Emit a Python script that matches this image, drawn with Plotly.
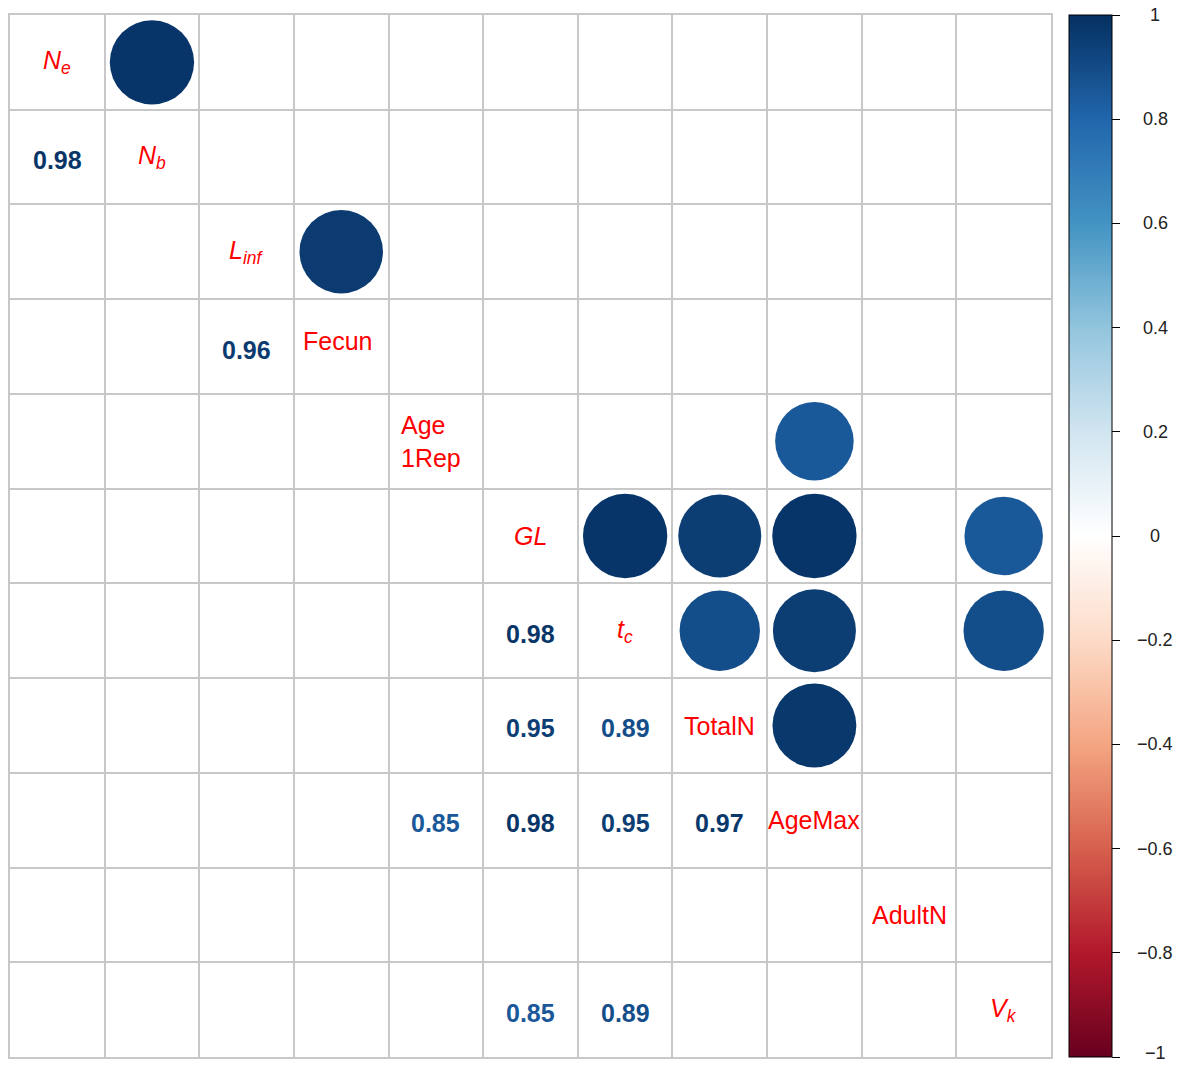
import numpy as np
import plotly.graph_objects as go
from plotly.colors import sample_colorscale

# ---- data ----
variables = ["Ne", "Nb", "Linf", "Fecun", "Age1Rep", "GL", "tc", "TotalN", "AgeMax", "AdultN", "Vk"]
var_labels = ["<i>N<sub>e</sub></i>", "<i>N<sub>b</sub></i>", "<i>L<sub>inf</sub></i>", "Fecun",
              "Age<br>1Rep", "<i>GL</i>", "<i>t<sub>c</sub></i>", "TotalN", "AgeMax", "AdultN",
              "<i>V<sub>k</sub></i>"]
# significant correlations (pairs shown); others left blank
pair_a = ["Ne", "Linf", "Age1Rep", "GL", "GL", "GL", "GL", "tc", "tc", "tc", "TotalN"]
pair_b = ["Nb", "Fecun", "AgeMax", "tc", "TotalN", "AgeMax", "Vk", "TotalN", "AgeMax", "Vk", "AgeMax"]
pair_r = [0.98, 0.96, 0.85, 0.98, 0.95, 0.98, 0.85, 0.89, 0.95, 0.89, 0.97]
cbar_ticks = [-1, -0.8, -0.6, -0.4, -0.2, 0, 0.2, 0.4, 0.6, 0.8, 1]

# corrplot COL2('RdBu')
rdbu = ["#67001F", "#B2182B", "#D6604D", "#F4A582", "#FDDBC7", "#FFFFFF",
        "#D1E5F0", "#92C5DE", "#4393C3", "#2166AC", "#053061"]
colorscale = [[i / (len(rdbu) - 1), c] for i, c in enumerate(rdbu)]

# ---- layout constants ----
W, H = 1185, 1065
ML, MR, MT, MB = 10, 134, 15, 8
PW = W - ML - MR
n = len(variables)
cell_px = PW / n
FONT = "Liberation Sans, Arial"
label_shift = {"Age1Rep": (-5, 0), "Fecun": (-4, 6), "TotalN": (0, -1)}

idx = {v: i + 1 for i, v in enumerate(variables)}

# upper triangle: circles (row = a, col = b)
cx = [idx[b] for b in pair_b]
cy = [idx[a] for a in pair_a]
sizes = [0.9 * np.sqrt(abs(r)) * cell_px for r in pair_r]

# lower triangle: numbers (row = b, col = a)
tx = [idx[a] for a in pair_a]
ty = [idx[b] for b in pair_b]
tcolors = sample_colorscale(colorscale, [(r + 1) / 2 for r in pair_r])

fig = go.Figure()

fig.add_trace(go.Scatter(
    x=cx, y=cy, mode="markers",
    marker=dict(size=sizes, color=pair_r, colorscale=colorscale, cmin=-1, cmax=1,
                line=dict(width=0), opacity=1,
                colorbar=dict(
                    thickness=43, thicknessmode="pixels", len=1, lenmode="fraction",
                    x=(1069 - ML) / PW, xanchor="left", xpad=0,
                    y=0.5, yanchor="middle", ypad=0,
                    outlinewidth=1, outlinecolor="black",
                    tickvals=cbar_ticks, showticklabels=False,
                    ticks="outside", ticklen=8, tickcolor="black", tickwidth=1,
                )),
    hoverinfo="skip", showlegend=False,
))

# colorbar tick labels (centered, as in corrplot)
for t in cbar_ticks:
    fig.add_annotation(
        xref="paper", yref="paper", x=(1155 - ML) / PW, y=(t + 1) / 2,
        text=f"{t:g}".replace("-", "\u2212"), showarrow=False,
        xanchor="center", yanchor="middle", yshift=4 if t == -1 else 0,
        font=dict(family=FONT, size=18, color="#222222"),
    )

# correlation numbers
for x, y, r, c in zip(tx, ty, pair_r, tcolors):
    fig.add_annotation(
        x=x, y=y, text=f"<b>{r:.2f}</b>", showarrow=False, yshift=-3,
        font=dict(family=FONT, size=25, color=c),
    )

# diagonal labels
for i, (v, lab) in enumerate(zip(variables, var_labels)):
    dx, dy = label_shift.get(v, (0, 0))
    fig.add_annotation(
        x=i + 1, y=i + 1, text=lab, showarrow=False, align="left",
        xshift=dx, yshift=dy,
        font=dict(family=FONT, size=25, color="#FF0000"),
    )

grid_vals = [k + 0.5 for k in range(n + 1)]
axis_common = dict(
    tickvals=grid_vals, showticklabels=False, ticks="",
    showgrid=True, gridcolor="#C8C8C8", gridwidth=2, zeroline=False,
    showline=True, linecolor="#C8C8C8", linewidth=2, mirror=True,
    fixedrange=True,
)
fig.update_xaxes(range=[0.5, n + 0.5], **axis_common)
fig.update_yaxes(range=[n + 0.5, 0.5], **axis_common)

fig.update_layout(
    width=W, height=H,
    margin=dict(l=ML, r=MR, t=MT, b=MB, pad=0),
    plot_bgcolor="white", paper_bgcolor="white",
    font=dict(family=FONT),
)

fig.write_html("out.html")
